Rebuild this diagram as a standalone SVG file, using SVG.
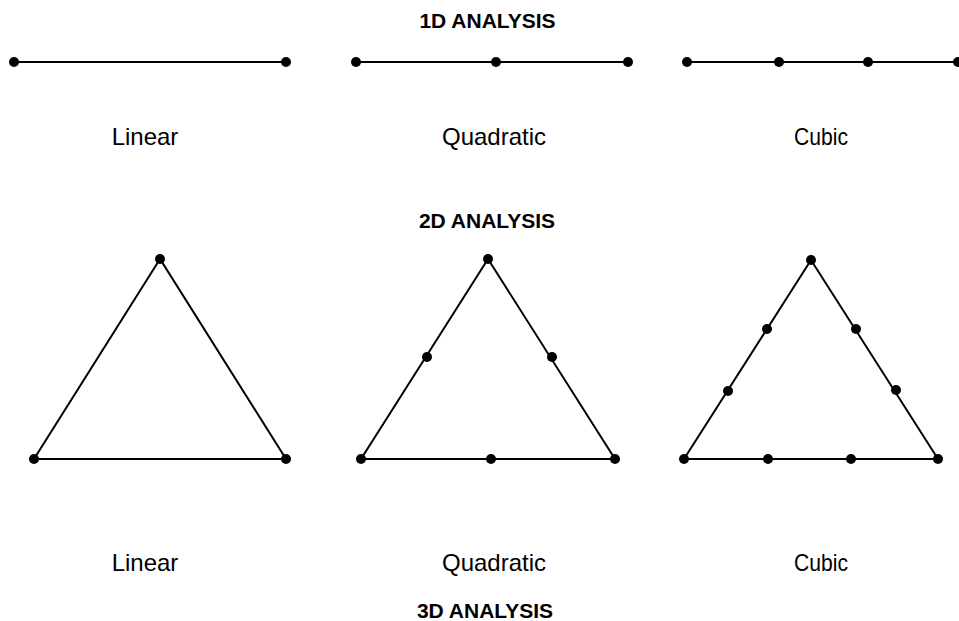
<svg xmlns="http://www.w3.org/2000/svg" width="959" height="621" viewBox="0 0 959 621">
<style>
.t{font-family:"Liberation Sans",Arial,sans-serif;font-weight:bold;font-size:21px;fill:#000;text-anchor:middle}
.l{font-family:"Liberation Sans",Arial,sans-serif;font-size:24px;fill:#000;text-anchor:middle}
.e{stroke:#000;stroke-width:2;fill:none}
circle{fill:#000}
</style>
<rect width="959" height="621" fill="#fff"/>
<g id="titles">
<text class="t" x="487.5" y="28">1D ANALYSIS</text>
<text class="t" x="487" y="228">2D ANALYSIS</text>
<text class="t" x="485" y="618">3D ANALYSIS</text>
</g>
<g id="connectors">
<line class="e" x1="14" y1="62" x2="286" y2="62"/>
<line class="e" x1="356" y1="62" x2="628" y2="62"/>
<line class="e" x1="687" y1="62" x2="958" y2="62"/>
<polygon class="e" points="160,259 34,459 286,459"/>
<polygon class="e" points="488,259 361,459 615,459"/>
<polygon class="e" points="811,260 684,459 938,459"/>
</g>
<g id="line-linear">
<circle cx="14" cy="62" r="5"/><circle cx="286" cy="62" r="5"/>
<text class="l" x="145" y="145">Linear</text>
</g>
<g id="line-quadratic">
<circle cx="356" cy="62" r="5"/><circle cx="496" cy="62" r="5"/><circle cx="628" cy="62" r="5"/>
<text class="l" x="494" y="145">Quadratic</text>
</g>
<g id="line-cubic">
<circle cx="687" cy="62" r="5"/><circle cx="779" cy="62" r="5"/><circle cx="868" cy="62" r="5"/><circle cx="958" cy="62" r="5"/>
<text class="l" x="821" y="145" textLength="54" lengthAdjust="spacingAndGlyphs">Cubic</text>
</g>
<g id="tri-linear">
<circle cx="160" cy="259" r="5"/><circle cx="34" cy="459" r="5"/><circle cx="286" cy="459" r="5"/>
<text class="l" x="145" y="571">Linear</text>
</g>
<g id="tri-quadratic">
<circle cx="488" cy="259" r="5"/><circle cx="361" cy="459" r="5"/><circle cx="615" cy="459" r="5"/>
<circle cx="427" cy="357" r="5"/><circle cx="552" cy="357" r="5"/><circle cx="491" cy="459" r="5"/>
<text class="l" x="494" y="571">Quadratic</text>
</g>
<g id="tri-cubic">
<circle cx="811" cy="260" r="5"/><circle cx="684" cy="459" r="5"/><circle cx="938" cy="459" r="5"/>
<circle cx="767" cy="329" r="5"/><circle cx="728" cy="391" r="5"/>
<circle cx="856" cy="329" r="5"/><circle cx="896" cy="390" r="5"/>
<circle cx="768" cy="459" r="5"/><circle cx="851" cy="459" r="5"/>
<text class="l" x="821" y="571" textLength="54" lengthAdjust="spacingAndGlyphs">Cubic</text>
</g>
</svg>
